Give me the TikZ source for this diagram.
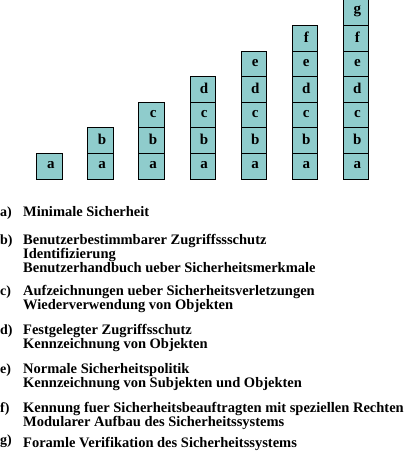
\documentclass[tikz,border=0pt]{standalone}
\usepackage{fontspec}
\setmainfont{Liberation Serif}
\definecolor{boxfill}{RGB}{143,204,204}
\newcommand{\topstrut}{\rule{0pt}{12pt}}
\tikzset{
  cell/.style={draw=black, line width=0.8pt, fill=boxfill, minimum width=25.5pt, minimum height=25.6pt, inner sep=0pt, anchor=south west},
  letter/.style={font=\fontsize{15}{12}\selectfont\bfseries},
  lbl/.style={anchor=base west, inner sep=0pt, font=\fontsize{14}{12}\selectfont\bfseries},
  item/.style={anchor=north west, inner sep=0pt, align=left, font=\fontsize{14.5}{12.3}\selectfont\bfseries},
}
\begin{document}
\begin{tikzpicture}[x=1pt,y=-1pt]
\useasboundingbox (0,0) rectangle (404,451);
\foreach \i in {1,...,7}{
  \foreach \j [count=\k] in {a,b,c,d,e,f,g}{
    \ifnum\k>\i\else
      \node[cell] (box\i\j) at ({36.3+51.07*(\i-1)},{179.3-25.6*(\k-1)}) {};
      \node[letter, xshift=1.5pt, yshift=1pt] (t\i\j) at (box\i\j.center) {\j};
    \fi
  }
}
\node[lbl] (la) at (0,216) {a)};
\node[item] (ia) at (23,204) {\topstrut Minimale Sicherheit};
\node[lbl] (lb) at (0,244) {b)};
\node[item] (ib) at (23,232) {\topstrut Benutzerbestimmbarer Zugriffssschutz\\Identifizierung\\Benutzerhandbuch ueber Sicherheitsmerkmale};
\node[lbl] (lc) at (0,295) {c)};
\node[item] (ic) at (23,283) {\topstrut Aufzeichnungen ueber Sicherheitsverletzungen\\Wiederverwendung von Objekten};
\node[lbl] (ld) at (0,334) {d)};
\node[item] (id) at (23,322) {\topstrut Festgelegter Zugriffsschutz\\Kennzeichnung von Objekten};
\node[lbl] (le) at (0,373) {e)};
\node[item] (ie) at (23,361) {\topstrut Normale Sicherheitspolitik\\Kennzeichnung von Subjekten und Objekten};
\node[lbl] (lf) at (0,412) {f)};
\node[item] (if) at (23,400) {\topstrut Kennung fuer Sicherheitsbeauftragten mit speziellen Rechten\\Modularer Aufbau des Sicherheitssystems};
\node[lbl] (lg) at (0,444) {g)};
\node[item] (ig) at (23,435) {\topstrut Foramle Verifikation des Sicherheitssystems};
\end{tikzpicture}
\end{document}
